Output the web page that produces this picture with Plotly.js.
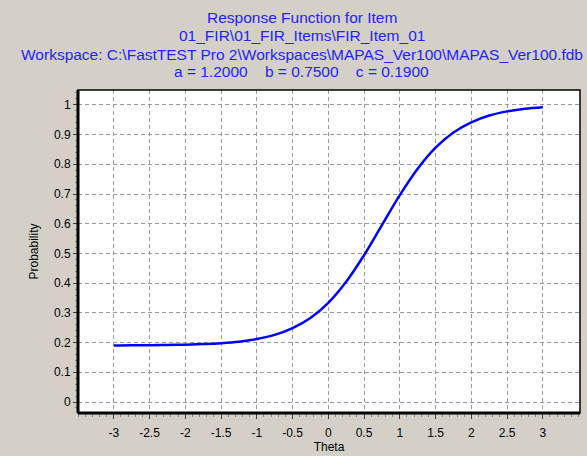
<!DOCTYPE html>
<html>
<head>
<meta charset="utf-8">
<script src="https://cdn.plot.ly/plotly-3.0.1.min.js"></script>
<style>html,body{margin:0;padding:0;background:#D4D0C8;}#chart{width:587px;height:456px;}</style>
</head>
<body>
<div id="chart"></div>
<script>
// Values
const theta = [-3, -2.75, -2.5, -2.25, -2, -1.75, -1.5, -1.25, -1, -0.75, -0.5, -0.25, 0, 0.25, 0.5, 0.75, 1, 1.25, 1.5, 1.75, 2, 2.25, 2.5, 2.75, 3];
const probability = [0.190, 0.191, 0.191, 0.192, 0.193, 0.195, 0.198, 0.203, 0.212, 0.226, 0.249, 0.283, 0.334, 0.405, 0.494, 0.595, 0.696, 0.785, 0.856, 0.907, 0.941, 0.964, 0.978, 0.987, 0.992];
const xTicks = [-3, -2.5, -2, -1.5, -1, -0.5, 0, 0.5, 1, 1.5, 2, 2.5, 3];
const yTicks = [0, 0.1, 0.2, 0.3, 0.4, 0.5, 0.6, 0.7, 0.8, 0.9, 1];
const titleLines = [
  "Response Function for Item",
  "01_FIR\\01_FIR_Items\\FIR_Item_01",
  "Workspace: C:\\FastTEST Pro 2\\Workspaces\\MAPAS_Ver100\\MAPAS_Ver100.fdb",
  "a = 1.2000&nbsp;&nbsp;&nbsp;&nbsp;b = 0.7500&nbsp;&nbsp;&nbsp;&nbsp;c = 0.1900"
];
const titleLineY = [1.226, 1.170, 1.111, 1.058];

const font = "Arial, 'Liberation Sans', sans-serif";
const trace = {
  x: theta, y: probability, type: 'scatter', mode: 'lines',
  line: {color: '#0000FF', width: 2.5, shape: 'spline'},
  hoverinfo: 'skip'
};
const gridDash = '4px,3px';
const layout = {
  width: 587, height: 456,
  paper_bgcolor: '#D4D0C8', plot_bgcolor: '#FFFFFF',
  margin: {l: 78, r: 7, t: 90, b: 43},
  showlegend: false,
  font: {family: font, size: 12, color: '#000000'},
  annotations: titleLines.map((t, i) => ({
    text: t, xref: 'paper', yref: 'paper', x: 0.446, y: titleLineY[i],
    xanchor: 'center', yanchor: 'middle', showarrow: false,
    font: {family: font, size: 15.5, color: '#2222FF'}
  })),
  xaxis: {
    range: [-3.5, 3.52], tickmode: 'array', tickvals: xTicks,
    ticktext: xTicks.map(String),
    ticks: 'outside', ticklen: 5, tickcolor: '#404040', tickwidth: 1,
    ticklabelstandoff: 4,
    showgrid: true, gridcolor: '#9a9a9a', griddash: gridDash, gridwidth: 1,
    zeroline: false, showline: false,
    minor: {dtick: 0.1, tick0: 0, ticks: 'outside', ticklen: 3, tickcolor: '#808080', showgrid: false},
    title: {text: 'Theta', font: {family: font, size: 12, color: '#000'}, standoff: 3},
    tickfont: {family: font, size: 12, color: '#000'}
  },
  yaxis: {
    range: [-0.037, 1.05], tickmode: 'array', tickvals: yTicks,
    ticktext: yTicks.map(String),
    ticks: 'outside', ticklen: 4, tickcolor: '#404040', tickwidth: 1,
    showgrid: true, gridcolor: '#9a9a9a', griddash: gridDash, gridwidth: 1,
    zeroline: false, showline: false,
    minor: {dtick: 0.02, tick0: 0, ticks: 'outside', ticklen: 2, tickcolor: '#808080', showgrid: false},
    title: {text: 'Probability', font: {family: font, size: 12, color: '#000'}, standoff: 12},
    tickfont: {family: font, size: 12, color: '#000'}
  },
  shapes: [
    {type: 'rect', xref: 'paper', yref: 'paper', x0: 0, x1: 1, y0: 0, y1: 1, line: {color: '#000', width: 1.5}},
    {type: 'line', xref: 'paper', yref: 'paper', x0: 0, x1: 0, y0: 0, y1: 1, line: {color: '#000', width: 3}},
    {type: 'line', xref: 'paper', yref: 'paper', x0: 0, x1: 1, y0: 0, y1: 0, line: {color: '#000', width: 3}}
  ]
};
Plotly.newPlot('chart', [trace], layout, {displayModeBar: false, staticPlot: true});
</script>
</body>
</html>
